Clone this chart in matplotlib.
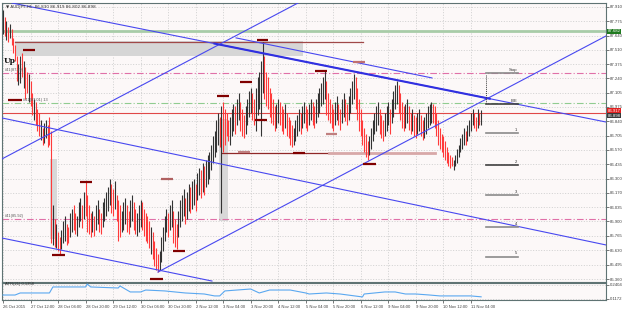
import matplotlib
matplotlib.use('Agg')
import matplotlib.pyplot as plt
from matplotlib.patches import Rectangle

# ---------------- data ----------------
highs = [87.88, 87.82, 87.78, 87.72, 87.75, 87.70, 87.62, 87.55, 87.45, 87.38,
         87.45, 87.48, 87.40, 87.35, 87.30, 87.28, 87.22, 87.10, 87.05, 87.02,
         86.95, 86.92, 86.85, 86.78, 86.82, 86.85, 86.80, 86.88, 86.75, 86.05,
         85.92, 85.88, 85.80, 85.75, 85.82, 85.90, 85.95, 85.88, 85.85, 85.98,
         86.02, 86.05, 85.98, 85.95, 86.08, 86.12, 86.05, 86.18, 86.28, 86.15,
         86.05, 85.98, 86.00, 85.95, 86.05, 86.10, 86.02, 85.98, 86.08, 86.12,
         86.18, 86.22, 86.30, 86.25, 86.20, 86.28, 86.15, 86.10, 86.05, 86.00,
         86.08, 86.12, 86.05, 86.00, 86.10, 86.15, 86.08, 86.02, 85.98, 86.05,
         86.10, 86.08, 86.02, 85.98, 85.95, 85.90, 85.85, 85.80, 85.72, 85.65,
         85.60, 85.62, 85.75, 85.85, 85.95, 86.02, 85.98, 86.05, 86.10, 86.00,
         85.92, 85.88, 86.00, 86.10, 86.15, 86.20, 86.12, 86.18, 86.25, 86.22,
         86.28, 86.30, 86.25, 86.35, 86.40, 86.38, 86.45, 86.42, 86.48, 86.52,
         86.55, 86.62, 86.70, 86.75, 86.85, 86.92, 86.88, 86.98, 87.02, 86.95,
         86.92, 86.85, 86.88, 86.95, 87.00, 86.98, 87.05, 87.10, 87.02, 86.95,
         86.90, 86.98, 87.05, 87.12, 87.15, 87.10, 87.05, 87.15, 87.25, 87.30,
         87.40, 87.58, 87.45, 87.30, 87.25, 87.15, 87.10, 87.05, 86.98, 87.00,
         87.05, 87.02, 86.98, 86.95, 87.00, 86.92, 86.88, 86.85, 86.80, 86.78,
         86.85, 86.90, 86.95, 86.92, 86.98, 87.02, 86.98, 86.95, 87.00, 87.05,
         87.02, 86.98, 87.05, 87.10, 87.15, 87.20, 87.25, 87.32, 87.22, 87.10,
         87.05, 87.00, 86.95, 87.02, 87.08, 87.00, 86.95, 87.05, 87.10, 87.05,
         87.00, 87.08, 87.15, 87.22, 87.28, 87.25, 87.15, 87.05, 86.95, 86.85,
         86.78, 86.72, 86.65, 86.70, 86.78, 86.85, 86.92, 86.98, 87.02, 86.95,
         86.90, 86.85, 86.92, 86.98, 87.02, 86.95, 87.05, 87.12, 87.18, 87.22,
         87.18, 87.10, 87.02, 86.98, 87.00, 87.05, 86.98, 86.92, 86.95, 86.90,
         86.88, 86.92, 86.95, 86.90, 86.85, 86.88, 86.92, 86.98, 87.00, 87.02,
         87.00, 86.98, 86.92, 86.85, 86.78, 86.72, 86.70, 86.65, 86.60, 86.55,
         86.52, 86.50, 86.48, 86.52, 86.58, 86.62, 86.68, 86.72, 86.78, 86.75,
         86.80, 86.85, 86.92, 86.95, 86.92, 86.88, 86.95, 86.92, 86.94]
lows = [87.66, 87.64, 87.60, 87.58, 87.62, 87.55, 87.48, 87.40, 87.22, 87.18,
        87.20, 87.25, 87.15, 87.05, 87.10, 87.02, 86.98, 86.90, 86.85, 86.80,
        86.75, 86.70, 86.66, 86.62, 86.64, 86.68, 86.60, 86.62, 85.70, 85.68,
        85.66, 85.65, 85.62, 85.60, 85.64, 85.70, 85.72, 85.68, 85.70, 85.75,
        85.80, 85.82, 85.78, 85.76, 85.85, 85.90, 85.84, 85.92, 85.95, 85.80,
        85.78, 85.75, 85.80, 85.76, 85.82, 85.88, 85.80, 85.78, 85.85, 85.90,
        85.95, 86.00, 86.05, 85.98, 85.95, 86.02, 85.90, 85.72, 85.75, 85.80,
        85.82, 85.88, 85.80, 85.78, 85.85, 85.90, 85.82, 85.78, 85.76, 85.80,
        85.85, 85.82, 85.76, 85.72, 85.70, 85.65, 85.60, 85.55, 85.48, 85.45,
        85.43, 85.45, 85.52, 85.62, 85.72, 85.80, 85.75, 85.82, 85.85, 85.70,
        85.66, 85.64, 85.75, 85.85, 85.90, 85.95, 85.88, 85.92, 86.00, 85.98,
        86.02, 86.05, 86.00, 86.10, 86.15, 86.12, 86.18, 86.15, 86.22, 86.25,
        86.30, 86.38, 86.45, 86.50, 86.55, 86.62, 86.60, 85.98, 86.55, 86.62,
        86.70, 86.65, 86.62, 86.70, 86.75, 86.72, 86.80, 86.85, 86.75, 86.70,
        86.68, 86.72, 86.80, 86.88, 86.92, 86.85, 86.80, 86.75, 86.90, 86.95,
        86.70, 87.10, 87.05, 86.98, 86.95, 86.88, 86.82, 86.80, 86.75, 86.78,
        86.82, 86.80, 86.75, 86.72, 86.78, 86.70, 86.68, 86.62, 86.60, 86.62,
        86.65, 86.70, 86.75, 86.72, 86.78, 86.82, 86.78, 86.75, 86.80, 86.85,
        86.80, 86.78, 86.82, 86.88, 86.92, 86.98, 87.00, 87.05, 86.90, 86.85,
        86.82, 86.78, 86.75, 86.80, 86.85, 86.80, 86.76, 86.82, 86.88, 86.84,
        86.80, 86.85, 86.92, 87.00, 87.05, 86.95, 86.85, 86.75, 86.70, 86.62,
        86.55, 86.50, 86.48, 86.52, 86.58, 86.65, 86.72, 86.75, 86.80, 86.72,
        86.68, 86.65, 86.70, 86.75, 86.80, 86.72, 86.82, 86.88, 86.95, 87.00,
        86.92, 86.85, 86.78, 86.75, 86.78, 86.82, 86.76, 86.72, 86.75, 86.70,
        86.68, 86.72, 86.75, 86.70, 86.66, 86.68, 86.72, 86.78, 86.80, 86.82,
        86.82, 86.78, 86.70, 86.62, 86.58, 86.55, 86.50, 86.48, 86.45, 86.42,
        86.40, 86.42, 86.38, 86.42, 86.45, 86.50, 86.55, 86.58, 86.62, 86.62,
        86.65, 86.70, 86.75, 86.80, 86.78, 86.75, 86.78, 86.80, 86.80]
bull = [1, 0, 1, 0, 1, 0, 0, 0, 0, 1,
        1, 0, 1, 0, 0, 1, 0, 0, 1, 0,
        0, 0, 1, 0, 1, 1, 0, 0, 0, 1,
        0, 1, 0, 0, 1, 1, 1, 0, 0, 1,
        1, 0, 0, 1, 1, 1, 0, 1, 0, 0,
        0, 0, 1, 0, 1, 1, 0, 0, 1, 1,
        1, 1, 1, 0, 0, 1, 0, 0, 0, 1,
        1, 1, 0, 0, 1, 1, 0, 0, 1, 1,
        1, 0, 0, 0, 0, 0, 1, 0, 0, 0,
        0, 1, 1, 1, 1, 1, 0, 1, 1, 0,
        0, 0, 1, 1, 1, 1, 0, 1, 1, 0,
        1, 1, 0, 1, 1, 0, 1, 0, 1, 1,
        1, 1, 1, 1, 1, 1, 0, 1, 0, 0,
        0, 0, 1, 1, 1, 0, 1, 1, 0, 0,
        0, 1, 1, 1, 1, 0, 0, 1, 1, 1,
        1, 1, 0, 0, 0, 0, 0, 0, 0, 1,
        1, 0, 0, 0, 1, 0, 0, 0, 0, 1,
        1, 1, 1, 0, 1, 1, 0, 0, 1, 1,
        0, 0, 1, 1, 1, 1, 1, 1, 0, 0,
        0, 0, 0, 1, 1, 0, 0, 1, 1, 0,
        0, 1, 1, 1, 1, 0, 0, 0, 0, 0,
        0, 0, 0, 1, 1, 1, 1, 1, 1, 0,
        0, 0, 1, 1, 1, 0, 1, 1, 1, 1,
        0, 0, 0, 0, 1, 1, 0, 0, 1, 0,
        0, 1, 1, 0, 0, 1, 1, 1, 1, 1,
        0, 0, 0, 0, 0, 0, 0, 0, 0, 0,
        0, 0, 1, 1, 1, 1, 1, 1, 1, 0,
        1, 1, 1, 1, 0, 0, 1, 0, 1]

time_tick_idx = [0, 16, 32, 48, 64, 80, 96, 112, 128, 144, 160, 176, 192, 208, 224, 240, 256, 272]
time_labels = ["26 Oct 2015", "27 Oct 12:00", "28 Oct 04:00", "28 Oct 20:00", "29 Oct 12:00",
               "30 Oct 04:00", "30 Oct 20:00", "2 Nov 12:00", "3 Nov 04:00", "3 Nov 20:00",
               "4 Nov 12:00", "5 Nov 04:00", "5 Nov 20:00", "6 Nov 12:00", "9 Nov 04:00",
               "9 Nov 20:00", "10 Nov 12:00", "11 Nov 04:00"]
price_ticks = [87.910, 87.775, 87.640, 87.510, 87.375, 87.240, 87.105, 86.975, 86.840, 86.705,
               86.570, 86.435, 86.300, 86.170, 86.035, 85.900, 85.765, 85.630, 85.495, 85.360]

atr_idx = [0, 7, 10, 27, 29, 48, 49, 51, 67, 68, 74, 80, 83, 94, 106, 117, 123, 126, 129,
           144, 149, 155, 167, 176, 178, 188, 196, 209, 210, 216, 222, 228, 234, 240, 248, 254, 272, 278]
atr_vals = [0.152, 0.152, 0.170, 0.170, 0.223, 0.223, 0.249, 0.223, 0.214, 0.232, 0.179, 0.179,
            0.196, 0.188, 0.170, 0.161, 0.144, 0.144, 0.188, 0.205, 0.170, 0.196, 0.196, 0.170,
            0.161, 0.170, 0.161, 0.135, 0.161, 0.170, 0.179, 0.179, 0.161, 0.161, 0.152, 0.144,
            0.144, 0.136]

# trendlines: (bar index, price) anchors
trend_lines = {
    "down_main": [(5.2, 87.947), (350.6, 86.832)],
    "down_upper": [(135.5, 87.62), (249.4, 87.245)],
    "up_upper": [(-0.6, 86.486), (171.5, 87.947)],
    "up_lower": [(90.1, 85.426), (350.6, 87.638)],
    "down_mid": [(-0.6, 86.870), (350.6, 85.68)],
    "down_low": [(-0.6, 85.745), (121.5, 85.342)],
}
# swing markers: (start bar, end bar, price, colour)
swing_marks = [(11.6, 18.6, 87.51, '#800000'), (2.9, 11.0, 87.04, '#800000'),
               (28.5, 36.0, 85.59, '#800000'), (44.8, 51.7, 86.27, '#800000'),
               (91.9, 98.8, 86.30, '#b06060'), (85.5, 93.0, 85.36, '#800000'),
               (98.8, 105.8, 85.62, '#800000'), (136.6, 143.6, 86.55, '#c08080'),
               (146.5, 153.5, 86.85, '#800000'), (147.7, 154.1, 87.60, '#800000'),
               (137.8, 144.8, 87.21, '#800000'), (124.4, 131.4, 87.08, '#800000'),
               (181.4, 188.4, 87.31, '#800000'), (203.5, 210.5, 87.39, '#c07070'),
               (168.6, 175.6, 86.54, '#800000'), (187.8, 194.2, 86.72, '#c08080'),
               (209.3, 216.9, 86.44, '#800000')]
levels = {"green": 87.682, "pink_hi": 87.29, "green_dd": 87.01, "red": 86.917, "pink_lo": 85.923}
targets = [("Stop", 87.29), ("B/E", 87.00), ("1", 86.73), ("2", 86.43), ("3", 86.15), ("4", 85.85), ("5", 85.57)]

# ---------------- layout ----------------
W, H = 625, 311
fig = plt.figure(figsize=(6.25, 3.11), dpi=100)
fig.patch.set_facecolor('white')
plt.rcParams['font.family'] = ['Liberation Sans', 'DejaVu Sans']

def fbox(x0, y0, x1, y1):
    return [x0 / W, 1 - y1 / H, (x1 - x0) / W, (y1 - y0) / H]

bg = '#fcf8f8'
ax = fig.add_axes(fbox(2, 3, 606, 282))
axa = fig.add_axes(fbox(2, 283, 606, 300))
for a in (ax, axa):
    a.set_facecolor(bg)
    for s in a.spines.values():
        s.set_color('#5f7373')
        s.set_linewidth(0.8)
    a.set_xlim(-0.58, 350.6)

ax.set_ylim(85.333, 87.947)
axa.set_ylim(0.108, 0.258)

grid_kw = dict(color='#c9c9c9', linestyle=(0, (1.2, 2)), linewidth=0.6)
for t in time_tick_idx:
    ax.axvline(t, **grid_kw, zorder=0)
    axa.axvline(t, **grid_kw, zorder=0)
for p in price_ticks:
    ax.axhline(p, **grid_kw, zorder=0)
axa.axhline(0.2404, **grid_kw, zorder=0)
axa.axhline(0.1172, **grid_kw, zorder=0)

# gray zones
ax.add_patch(Rectangle((7.0, 87.45), 174.4 - 7.0, 0.14, facecolor='#d6d6d6', edgecolor='none', zorder=1))
ax.add_patch(Rectangle((27.4, 85.74), 4.0, 0.75, facecolor='#d8d8d8', edgecolor='none', zorder=1))
ax.add_patch(Rectangle((125.8, 85.90), 5.2, 0.96, facecolor='#d8d8d8', edgecolor='none', zorder=1))
ax.plot([7.0, 209.3], [87.58, 87.58], color='#a04848', lw=0.9, zorder=2)

# horizontal levels
ax.axhline(levels["green"], color='#a8cca8', lw=2.0, zorder=2)
ax.axhline(levels["pink_hi"], color='#e070a8', lw=0.8, linestyle=(0, (6, 2, 1, 2)), zorder=2)
ax.axhline(levels["green_dd"], color='#90cc90', lw=0.8, linestyle=(0, (6, 2, 1, 2)), zorder=2)
ax.axhline(levels["pink_lo"], color='#e070a8', lw=0.8, linestyle=(0, (6, 2, 1, 2)), zorder=2)
ax.axhline(levels["red"], color='#e04848', lw=0.8, zorder=2)

# long support line
ax.plot([127.3, 189.5], [86.54, 86.54], color='#902828', lw=0.9, zorder=2)
ax.plot([189.5, 251.2], [86.54, 86.54], color='#d8a8a8', lw=2.0, zorder=2)

# bars
idx = list(range(len(highs)))
cols = ['#333333' if b else '#ff3a3a' for b in bull]
ax.vlines(idx, lows, highs, colors=cols, lw=0.8, zorder=3)

# trendlines
for name, pts in trend_lines.items():
    xs = [p[0] for p in pts]
    ys = [p[1] for p in pts]
    ax.plot(xs, ys, color='#4848f0', lw=0.8, zorder=4)
# thick portion of main down line
(x0, y0), (x1, y1) = trend_lines["down_main"]
xa, xb = 123.0, 283.0
ax.plot([xa, xb], [y0 + (y1 - y0) * (xa - x0) / (x1 - x0), y0 + (y1 - y0) * (xb - x0) / (x1 - x0)],
        color='#3030e0', lw=1.5, zorder=4)

# swing markers
for s, e, p, c in swing_marks:
    ax.plot([s, e], [p, p], color=c, lw=1.6, solid_capstyle='butt', zorder=5)

# target tool
tx0, tx1 = 280.8, 299.4
ax.plot([tx0, tx0], [targets[0][1] - 0.02, targets[1][1]], color='#404040', lw=0.7, linestyle=(0, (1, 1)), zorder=5)
for lab, p in targets:
    c = '#404040' if lab in ("B/E", "2") else '#8a8a8a'
    ax.plot([tx0, tx1], [p, p], color=c, lw=1.2, zorder=5)
    ax.text(tx1 - 0.5, p + 0.012, lab, fontsize=3.0, ha='right', va='bottom', color='#303030', zorder=6)

# texts on chart
ax.text(1.5, 87.925, "\u25BC AUDJPY,H1  86.830 86.919 86.802 86.898", fontsize=3.0, color='#303030',
        va='top', ha='left', zorder=6, family=['DejaVu Sans'])
ax.text(0.3, 87.40, "Up", fontsize=5.5, fontweight='bold', family='DejaVu Serif', color='#111111',
        va='center', ha='left', zorder=6)
ax.text(1.0, levels["pink_hi"] + 0.01, "#41(87.29)", fontsize=2.8, color='#555555', va='bottom', zorder=6)
ax.text(11.5, levels["green_dd"] + 0.01, "#41(87.01) 13", fontsize=2.8, color='#555555', va='bottom', zorder=6)
ax.text(1.0, levels["pink_lo"] + 0.01, "#41(85.92)", fontsize=2.8, color='#555555', va='bottom', zorder=6)

# right axis
ax.yaxis.tick_right()
ax.set_yticks(price_ticks)
ax.set_yticklabels([f"{p:.3f}" for p in price_ticks])
ax.tick_params(axis='y', labelsize=3.1, length=2, width=0.5, pad=1.0, colors='#404040')
ax.set_xticks([])

def price_box(a, p, txt, fc, tc='white'):
    a.text(1.003, p, txt, transform=a.get_yaxis_transform(), fontsize=3.1, color=tc, va='center', ha='left',
           bbox=dict(boxstyle='square,pad=0.15', fc=fc, ec='none'), zorder=10, clip_on=False)

price_box(ax, 87.682, "87.682", '#1f7a1f')
price_box(ax, 86.935, "86.917", '#e02020')
price_box(ax, 86.892, "86.898", '#3a3a3a')

# ATR
axa.plot(atr_idx, atr_vals, color='#5aa8f0', lw=0.8, zorder=3)
axa.text(1.0, 0.245, "ATR(21) 0.1358", fontsize=3.0, color='#303030', va='center', ha='left')
axa.yaxis.tick_right()
axa.set_yticks([0.2404, 0.1172])
axa.set_yticklabels(["0.2404", "0.1172"])
axa.tick_params(axis='y', labelsize=3.1, length=2, width=0.5, pad=1.0, colors='#404040')
axa.set_xticks(time_tick_idx)
axa.set_xticklabels(time_labels, ha='left')
axa.tick_params(axis='x', labelsize=3.0, length=2, width=0.5, pad=1.5, colors='#404040')

fig.savefig('out.png', dpi=100, facecolor='white')
